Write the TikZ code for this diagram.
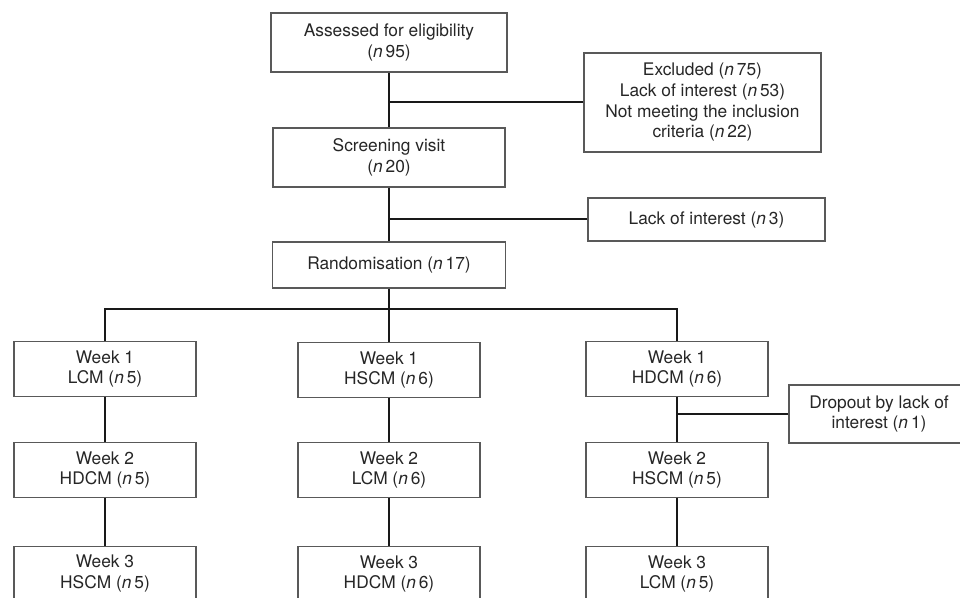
\documentclass[tikz,border=0pt]{standalone}
\usepackage{fontspec}
\setmainfont{TeX Gyre Heros}
\usepackage{tikz}
\newcommand{\ncount}[1]{(\textit{n}\,#1)}

\begin{document}
\begin{tikzpicture}
[x=0.75pt,y=-0.75pt]
\tikzset{box/.style={draw=black!65,line width=.8pt,align=center,inner sep=2pt,text=black!85,font=\fontsize{13}{15.5}\selectfont}}
\tikzset{wk/.style={box,minimum width=136.5pt,minimum height=41pt}}
\tikzset{conn/.style={line width=1.5pt,black!90}}
\clip (0,0) rectangle (960,598);
\fill [white] (0,0) rectangle (960,598);
\node [box,minimum width=177pt,minimum height=44.25pt] (el) at (389,42.5) {Assessed for eligibility\\\ncount{95}};
\node [box,minimum width=177.75pt,minimum height=74.25pt] (ex) at (702.5,102.5) {Excluded \ncount{75}\\Lack of interest \ncount{53}\\Not meeting the inclusion\\criteria \ncount{22}};
\node [box,minimum width=174pt,minimum height=44.25pt] (sv) at (389,157.5) {Screening visit\\\ncount{20}};
\node [box,minimum width=177.75pt,minimum height=32.25pt] (li) at (706.5,219.5) {Lack of interest \ncount{3}};
\node [box,minimum width=174.75pt,minimum height=34.5pt] (ra) at (389,265) {Randomisation \ncount{17}};
\coordinate (sp) at (389,309);
\node [wk] (a1) at (105,369) {Week 1\\LCM \ncount{5}};
\node [wk] (b1) at (389,370) {Week 1\\HSCM \ncount{6}};
\node [wk] (c1) at (677,369) {Week 1\\HDCM \ncount{6}};
\node [box,minimum width=135pt,minimum height=43.5pt] (dr) at (879,414) {Dropout by lack of\\interest \ncount{1}};
\node [wk] (a2) at (105,470) {Week 2\\HDCM \ncount{5}};
\node [wk] (b2) at (389,470) {Week 2\\LCM \ncount{6}};
\node [wk] (c2) at (677,470) {Week 2\\HSCM \ncount{5}};
\node [wk] (a3) at (105,573.5) {Week 3\\HSCM \ncount{5}};
\node [wk] (b3) at (389,574) {Week 3\\HDCM \ncount{6}};
\node [wk] (c3) at (677,574) {Week 3\\LCM \ncount{5}};

\foreach \from/\to in {el/sv,sv/ra,ra/sp,sp/b1,a1/a2,a2/a3,b1/b2,b2/b3,c1/c2,c2/c3}
	\draw [conn] (\from) -- (\to);
\draw [conn] (a1.north) |- (sp) -| (c1.north);
\draw [conn] (ex.west) -- (el |- ex.west);
\draw [conn] (li.west) -- (sv |- li.west);
\draw [conn] (dr.west) -- (c1 |- dr.west);
\end{tikzpicture}
\end{document}
